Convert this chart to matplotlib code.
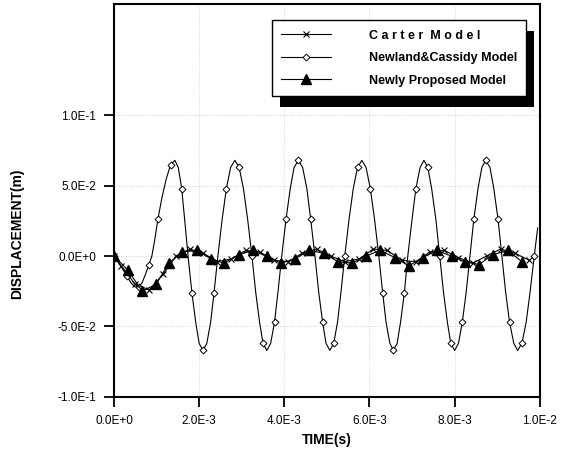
import matplotlib
matplotlib.use("Agg")
import matplotlib.pyplot as plt
from matplotlib.patches import Rectangle

plt.rcParams['font.family'] = ['Liberation Sans', 'DejaVu Sans']

# Newland & Cassidy model (time in ms, displacement in m)
nc_t = [0.00, 0.10, 0.20, 0.30, 0.40, 0.50, 0.58, 0.66, 0.74, 0.82, 0.89, 0.96, 1.03,
        1.13, 1.23, 1.33, 1.43, 1.51, 1.59, 1.66, 1.74, 1.83, 1.92, 2.00, 2.09,
        2.18, 2.27, 2.35, 2.44, 2.54, 2.64, 2.74, 2.84, 2.94, 3.04, 3.14, 3.24,
        3.33, 3.42, 3.50, 3.59, 3.68, 3.77, 3.85, 3.94, 4.04, 4.14, 4.23, 4.33,
        4.43, 4.53, 4.62, 4.72, 4.81, 4.90, 4.98, 5.07, 5.16, 5.25, 5.33, 5.42,
        5.52, 5.62, 5.72, 5.82, 5.92, 6.02, 6.12, 6.22, 6.31, 6.39, 6.48, 6.56,
        6.65, 6.73, 6.82, 6.90, 7.00, 7.09, 7.19, 7.28, 7.37, 7.46, 7.56, 7.65,
        7.74, 7.83, 7.91, 8.00, 8.09, 8.18, 8.27, 8.36, 8.45, 8.55, 8.64, 8.73,
        8.83, 8.92, 9.02, 9.11, 9.20, 9.29, 9.39, 9.48, 9.58, 9.68, 9.77, 9.87, 9.95]
nc_v = [0.000, -0.004, -0.009, -0.014, -0.019, -0.022, -0.022, -0.019, -0.013, -0.006, 0.000, 0.012, 0.026,
        0.042, 0.055, 0.065, 0.068, 0.063, 0.048, 0.026, 0.000, -0.026, -0.047, -0.062, -0.067,
        -0.062, -0.047, -0.026, 0.000, 0.026, 0.048, 0.063, 0.068, 0.063, 0.048, 0.026, 0.000,
        -0.026, -0.047, -0.062, -0.067, -0.062, -0.047, -0.026, 0.000, 0.026, 0.048, 0.063, 0.068,
        0.063, 0.048, 0.026, 0.000, -0.026, -0.047, -0.062, -0.067, -0.062, -0.047, -0.026, 0.000,
        0.026, 0.048, 0.063, 0.068, 0.063, 0.048, 0.026, 0.000, -0.026, -0.047, -0.062, -0.067,
        -0.062, -0.047, -0.026, 0.000, 0.026, 0.048, 0.063, 0.068, 0.063, 0.048, 0.026, 0.000,
        -0.026, -0.047, -0.062, -0.067, -0.062, -0.047, -0.026, 0.000, 0.026, 0.048, 0.063, 0.068,
        0.063, 0.048, 0.026, 0.000, -0.026, -0.047, -0.062, -0.067, -0.062, -0.047, -0.026, 0.000, 0.020]

# Newly proposed model
np_t = [0.00, 0.33, 0.66, 0.99, 1.29, 1.60, 1.95, 2.28, 2.58, 2.93, 3.26, 3.59, 3.92, 4.25, 4.58,
        4.93, 5.26, 5.59, 5.92, 6.24, 6.60, 6.92, 7.25, 7.58, 7.93, 8.24, 8.57, 8.90, 9.25, 9.58]
np_v = [0.000, -0.010, -0.025, -0.020, -0.005, 0.003, 0.004, -0.002, -0.005, 0.001, 0.004, 0.000,
        -0.005, -0.002, 0.004, 0.002, -0.004, -0.005, 0.000, 0.004, -0.001, -0.007, -0.001, 0.004,
        0.000, -0.004, -0.006, 0.001, 0.004, -0.004]

# Carter model
ca_t = [0.00, 0.17, 0.50, 0.83, 1.15, 1.46, 1.78, 2.10, 2.43, 2.76, 3.09, 3.42, 3.76, 4.09, 4.42,
        4.76, 5.09, 5.42, 5.76, 6.09, 6.42, 6.76, 7.09, 7.42, 7.76, 8.09, 8.42, 8.75, 9.08, 9.42, 9.75]
ca_v = [0.000, -0.007, -0.020, -0.024, -0.013, 0.000, 0.005, 0.002, -0.004, -0.002, 0.004, 0.003,
        -0.003, -0.004, 0.002, 0.005, 0.000, -0.004, -0.002, 0.005, 0.004, -0.003, -0.004, 0.003,
        0.004, -0.001, -0.005, 0.000, 0.005, 0.002, -0.003]

xticks = [0.0, 0.002, 0.004, 0.006, 0.008, 0.010]
xticklabels = ["0.0E+0", "2.0E-3", "4.0E-3", "6.0E-3", "8.0E-3", "1.0E-2"]
yticks = [-0.1, -0.05, 0.0, 0.05, 0.1]
yticklabels = ["-1.0E-1", "-5.0E-2", "0.0E+0", "5.0E-2", "1.0E-1"]

fig = plt.figure(figsize=(5.67, 4.5), dpi=100)
ax = fig.add_axes([0.201, 0.118, 0.751, 0.873])

ms = lambda t: [v * 1e-3 for v in t]

ax.plot(ms(ca_t), ca_v, color='black', lw=0.8, marker='x', ms=4.5, mew=0.8,
        label='C a r t e r  M o d e l', zorder=3)
ax.plot(ms(nc_t), nc_v, color='black', lw=0.8, marker='D', ms=3.5, mfc='white', mew=0.7,
        markevery=3, label='Newland&Cassidy Model', zorder=2)
ax.plot(ms(np_t), np_v, color='black', lw=0.8, marker='^', ms=6.5,
        label='Newly Proposed Model', zorder=4)

ax.set_xlim(0, 0.01)
ax.set_ylim(-0.1, 0.179)
ax.set_xticks(xticks)
ax.set_xticklabels(xticklabels)
ax.set_yticks(yticks)
ax.set_yticklabels(yticklabels)
ax.tick_params(direction='out', length=7, width=1.3, labelsize=8.5, pad=6)
ax.grid(True, linestyle=':', color='#cccccc', lw=0.6)

for s in ax.spines.values():
    s.set_linewidth(1.5)

ax.set_xlabel("TIME(s)", fontsize=10, fontweight='bold', labelpad=4)
ax.set_ylabel("DISPLACEMENT(m)", fontsize=10, fontweight='bold')
ax.yaxis.set_label_coords(-0.212, 0.415)

leg = ax.legend(loc='upper left', bbox_to_anchor=(0.371, 0.959), borderaxespad=0,
                fancybox=False, framealpha=1, edgecolor='black', handlelength=4.0,
                handletextpad=3.0, labelspacing=0.85, borderpad=0.75,
                prop={'weight': 'bold', 'size': 9})
leg.get_frame().set_linewidth(1.0)
leg.set_zorder(6)

# black drop shadow behind the legend box
fig.canvas.draw()
bb = leg.get_window_extent()
inv = fig.transFigure.inverted()
(x0, y0), (x1, y1) = inv.transform([[bb.x0 + 8, bb.y0 - 11], [bb.x1 + 8, bb.y1 - 11]])
shadow = Rectangle((x0, y0), x1 - x0, y1 - y0, transform=fig.transFigure,
                   facecolor='black', edgecolor='none', zorder=5, clip_on=False)
ax.add_artist(shadow)

fig.savefig("out.png", dpi=100)
